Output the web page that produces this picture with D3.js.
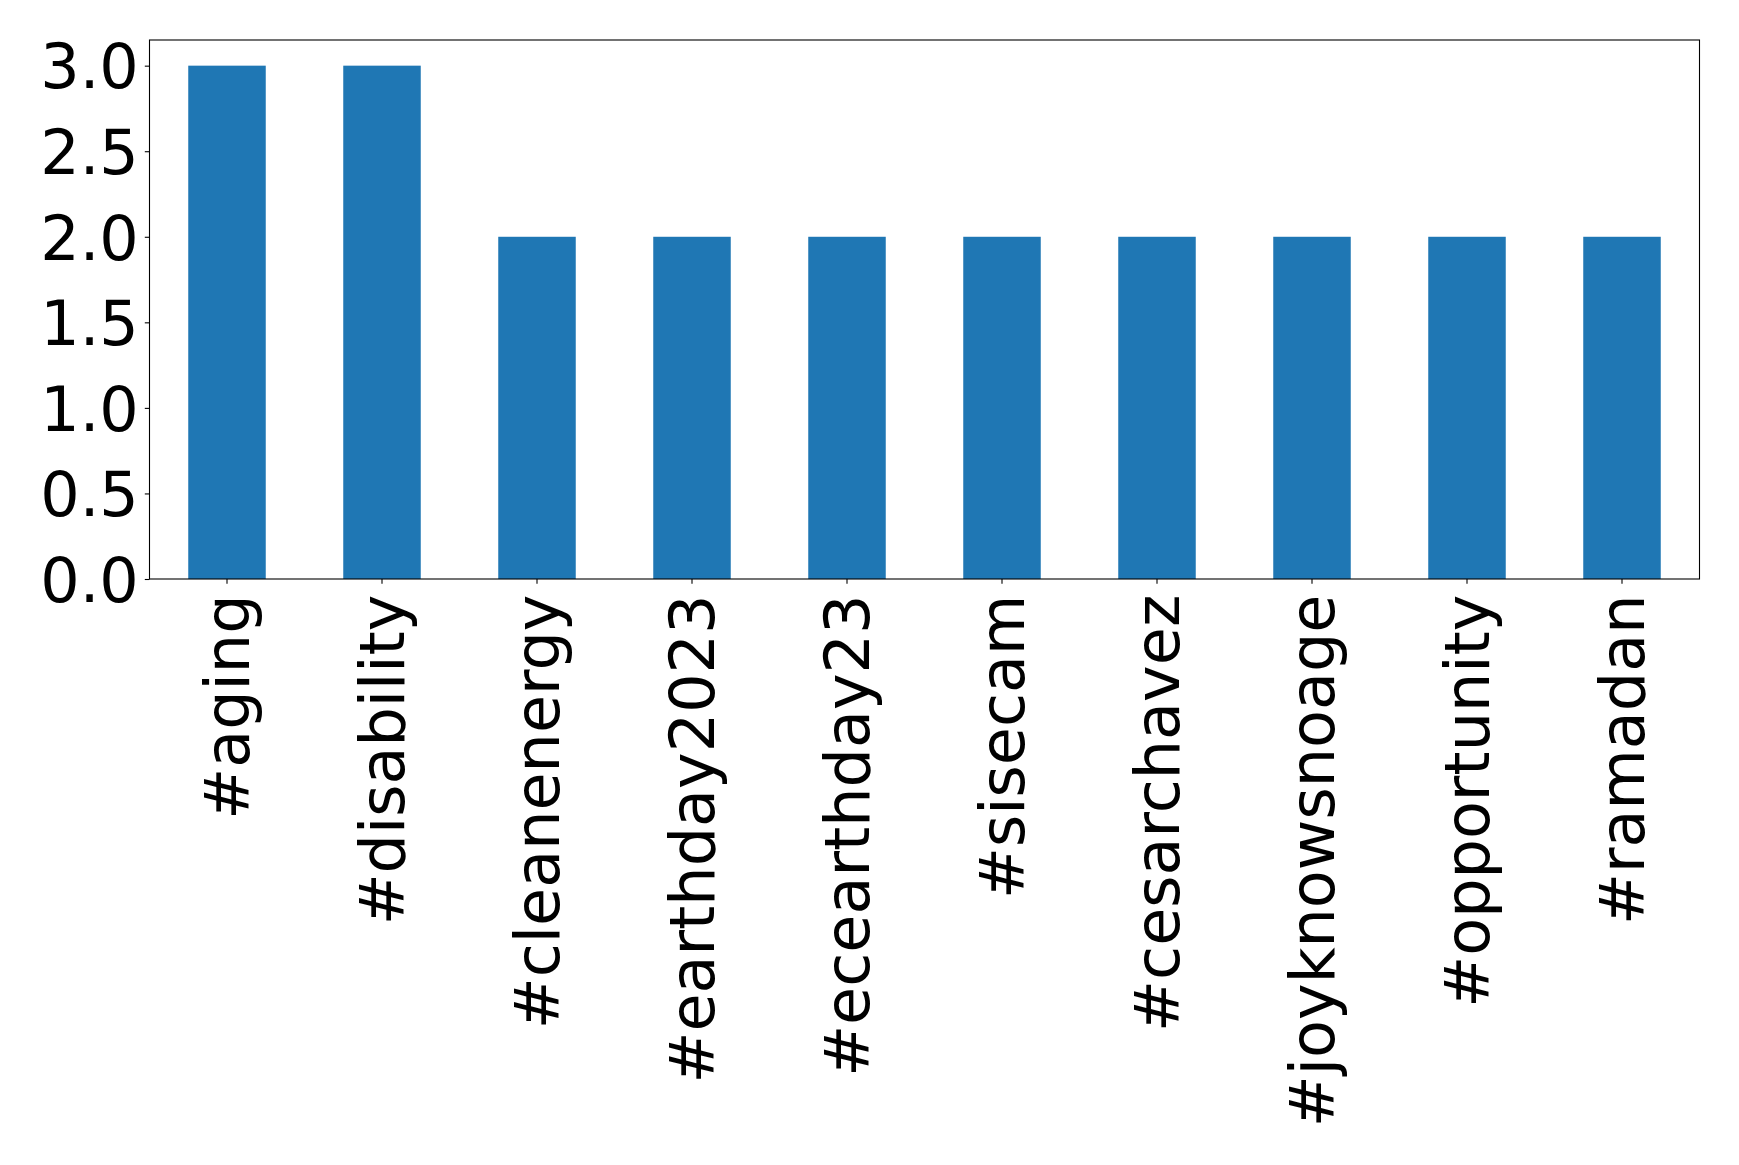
<!DOCTYPE html>
<html><head><meta charset="utf-8">
<script src="https://cdn.jsdelivr.net/npm/d3@7"></script>
<style>body{margin:0;background:#fff;} svg{display:block;}</style>
</head><body>
<svg id="chart" width="1739" height="1165"></svg>
<script>
const categories = ["#aging","#disability","#cleanenergy","#earthday2023","#ecearthday23","#sisecam","#cesarchavez","#joyknowsnoage","#opportunity","#ramadan"];
const values = [3,3,2,2,2,2,2,2,2,2];
const yTicks = [0.0,0.5,1.0,1.5,2.0,2.5,3.0];

const svg = d3.select("#chart");
const L = 149.5, R = 1699.5, T = 40, B = 579;
const font = "DejaVu Sans";
const fs = 62;

const x = d3.scaleBand().domain(categories).range([L, R]).paddingInner(0.5).paddingOuter(0.25);
const y = d3.scaleLinear().domain([0, 3.15]).range([B, T]);

svg.append("g").selectAll("rect").data(values).join("rect")
  .attr("x", (d,i) => x(categories[i]))
  .attr("width", x.bandwidth())
  .attr("y", d => y(d))
  .attr("height", d => B - y(d))
  .attr("fill", "#1f77b4");

const ya = svg.append("g").attr("transform", `translate(${L},0)`)
  .call(d3.axisLeft(y).tickValues(yTicks).tickFormat(d3.format(".1f")).tickSize(4.7).tickPadding(6));
ya.select(".domain").remove();
ya.selectAll("text").attr("font-family", font).attr("font-size", fs).attr("fill", "#000").attr("dy", "0.36em");
ya.selectAll("line").attr("stroke", "#000").attr("stroke-width", 1.1);

const xa = svg.append("g").attr("transform", `translate(0,${B})`)
  .call(d3.axisBottom(x).tickSize(4.7).tickPadding(0));
xa.select(".domain").remove();
xa.selectAll("line").attr("stroke", "#000").attr("stroke-width", 1.1);
xa.selectAll("text")
  .attr("font-family", font).attr("font-size", fs).attr("fill", "#000")
  .attr("text-anchor", "end")
  .attr("dy", null)
  .attr("y", 0)
  .attr("transform", "translate(0,15.5) rotate(-90)")
  .attr("dominant-baseline", "central");

svg.append("rect").attr("x", L).attr("y", T).attr("width", R - L).attr("height", B - T)
  .attr("fill", "none").attr("stroke", "#000").attr("stroke-width", 1.1);
</script>
</body></html>
